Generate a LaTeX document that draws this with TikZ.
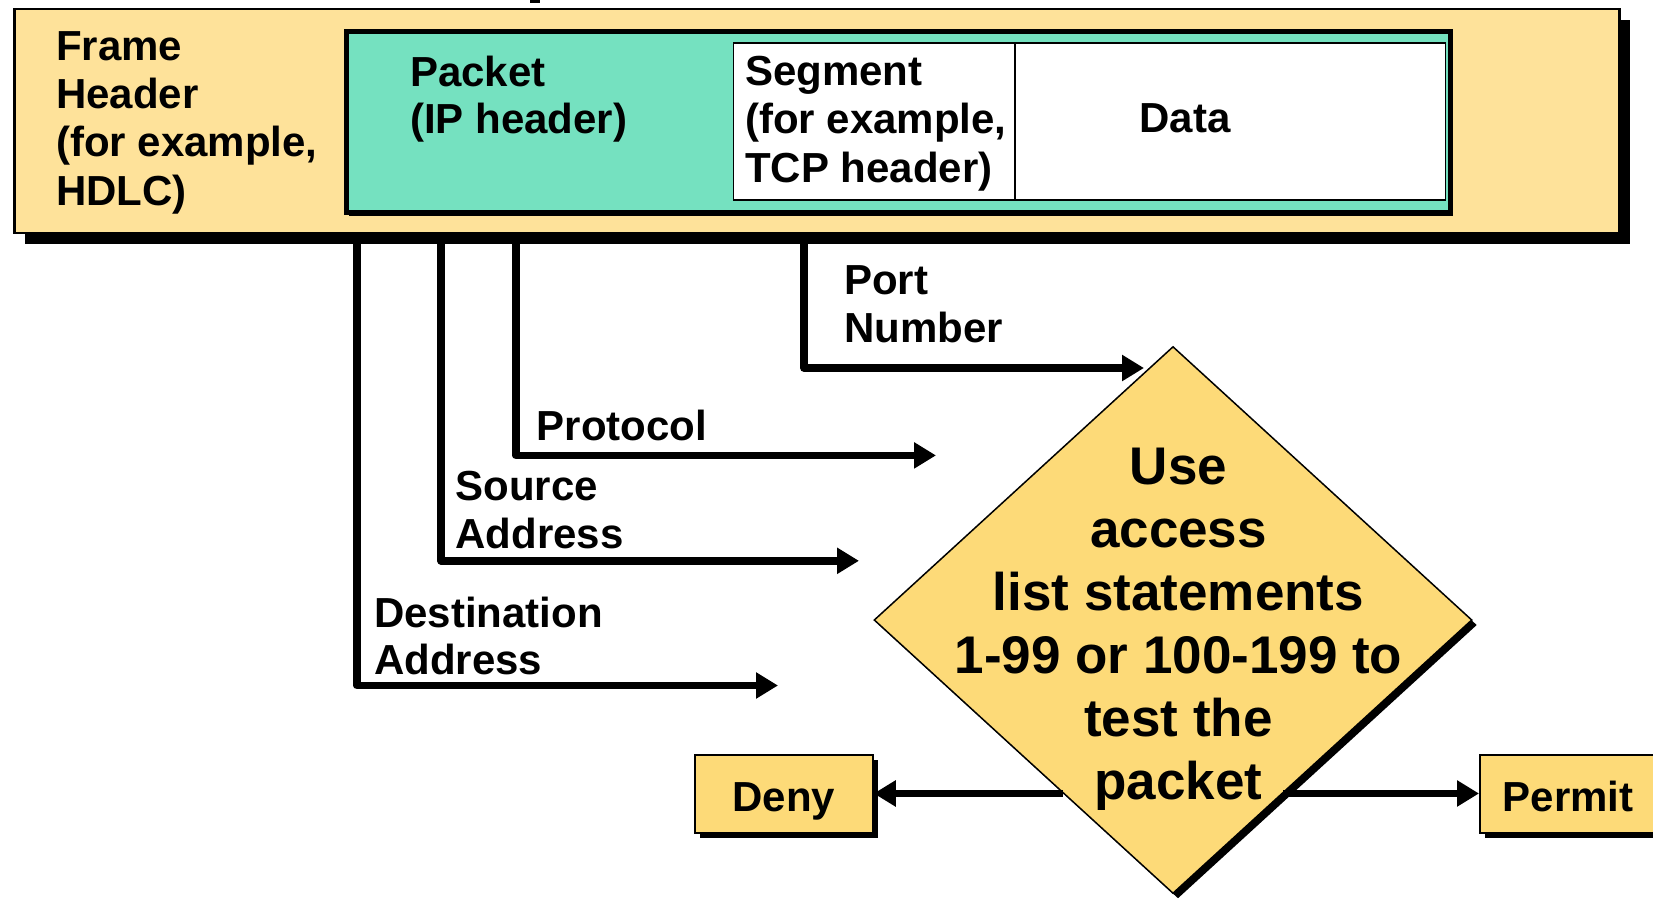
\documentclass[tikz,border=0pt]{standalone}
\usepackage{fontspec}
\setmainfont{Liberation Sans}
\usetikzlibrary{shapes.geometric,arrows.meta,calc,shadows}
\definecolor{framefill}{RGB}{254,226,154}
\definecolor{tealfill}{RGB}{117,225,192}
\definecolor{diafill}{RGB}{253,218,120}
\tikzset{
  lbl/.style={font=\fontsize{42}{47.5}\selectfont\bfseries, inner sep=0pt, align=left},
  lblwide/.style={font=\fontsize{42}{48.3}\selectfont\bfseries, inner sep=0pt, align=left},
  diatext/.style={font=\fontsize{53}{63}\selectfont\bfseries, inner sep=0pt, align=center},
  framebox/.style={rectangle, draw=black, line width=2.5pt, fill=framefill, inner sep=0pt, anchor=north west,
    drop shadow={shadow xshift=11pt, shadow yshift=-11pt, fill=black, opacity=1}},
  packetbox/.style={rectangle, draw=black, line width=5pt, fill=tealfill, inner sep=0pt, anchor=north west,
    drop shadow={shadow xshift=3pt, shadow yshift=-3pt, fill=black, opacity=1}},
  whitebox/.style={rectangle, draw=black, line width=1.5pt, fill=white, inner sep=0pt, anchor=north west},
  diabox/.style={diamond, draw=black, line width=1.5pt, fill=diafill, inner sep=0pt,
    drop shadow={shadow xshift=5pt, shadow yshift=-5pt, fill=black, opacity=1}},
  resultbox/.style={rectangle, draw=black, line width=2pt, fill=diafill, inner sep=0pt,
    font=\fontsize{42}{47}\selectfont\bfseries, text height=35pt, text depth=0pt,
    drop shadow={shadow xshift=5pt, shadow yshift=-5pt, fill=black, opacity=1}},
  conn/.style={line width=7.5pt, line join=round, -{Triangle[length=22pt,width=25pt]}}
}
\begin{document}
\begin{tikzpicture}[x=1pt,y=-1pt]
\useasboundingbox (0,0) rectangle (1653,898);
% fragment of cut-off title
\fill[black] (530,0) rectangle (540,3);

% frame / packet / segment
\node[framebox, minimum width=1605pt, minimum height=224pt] (frame) at (13,7.5) {};
\node[packetbox, minimum width=1104pt, minimum height=181pt] (packet) at (343.5,29.3) {};
\node[whitebox, minimum width=281.3pt, minimum height=157pt] (seg) at (732.7,42) {};
\node[whitebox, minimum width=430.5pt, minimum height=157pt] (data) at (1014,42) {};
\node[lblwide, anchor=west] (seglbl) at (745,123.5) {Segment\\(for example,\\TCP header)};
\node[lbl] (datalbl) at (1185,118) {Data};
\node[lblwide, anchor=west] (framelbl) at (56,122.5) {Frame\\Header\\(for example,\\HDLC)};
\node[lbl, anchor=west] (packetlbl) at (410,99) {Packet\\(IP header)};

% decision
\node[diabox, minimum width=598pt, minimum height=547pt] (dia) at (1173,620) {};
\node[resultbox, minimum width=177.7pt, minimum height=78pt] (deny) at (783.9,794) {Deny};
\node[resultbox, anchor=west, minimum height=78pt, text width=180pt, inner xsep=22.7pt, align=left] (permit) at (1479,794.3) {Permit};

% connectors from the frame
\coordinate (portEnd) at (1144,368);
\coordinate (protoEnd) at (936,455.4);
\coordinate (srcEnd) at (859,560.8);
\coordinate (dstEnd) at (778,685.5);
\draw[conn] ([xshift=791pt]frame.south west) |- (portEnd);
\draw[conn] ([xshift=503pt]frame.south west) |- (protoEnd);
\draw[conn] ([xshift=428pt]frame.south west) |- (srcEnd);
\draw[conn] ([xshift=344pt]frame.south west) |- (dstEnd);

\node[lbl, anchor=west] (portlbl) at (844,304) {Port\\Number};
\node[lbl, anchor=west] (protolbl) at (536.6,425) {Protocol};
\node[lbl, anchor=west] (srclbl) at (455.4,510) {Source\\Address};
\node[lbl, anchor=west] (dstlbl) at (374,636) {Destination\\Address};

% results
\coordinate (dl) at ($(dia.west)!0.6325!(dia.south)$);
\coordinate (dr) at ($(dia.east)!0.6325!(dia.south)$);
\draw[conn] (dl) -- (dl -| deny.east);
\draw[conn] (dr) -- (dr -| permit.west);

\node[diatext] (diatxt) at (1178.5,629.5) {Use\\access\\list statements\\1-99 or 100-199 to\\test the\\packet};
\end{tikzpicture}
\end{document}
